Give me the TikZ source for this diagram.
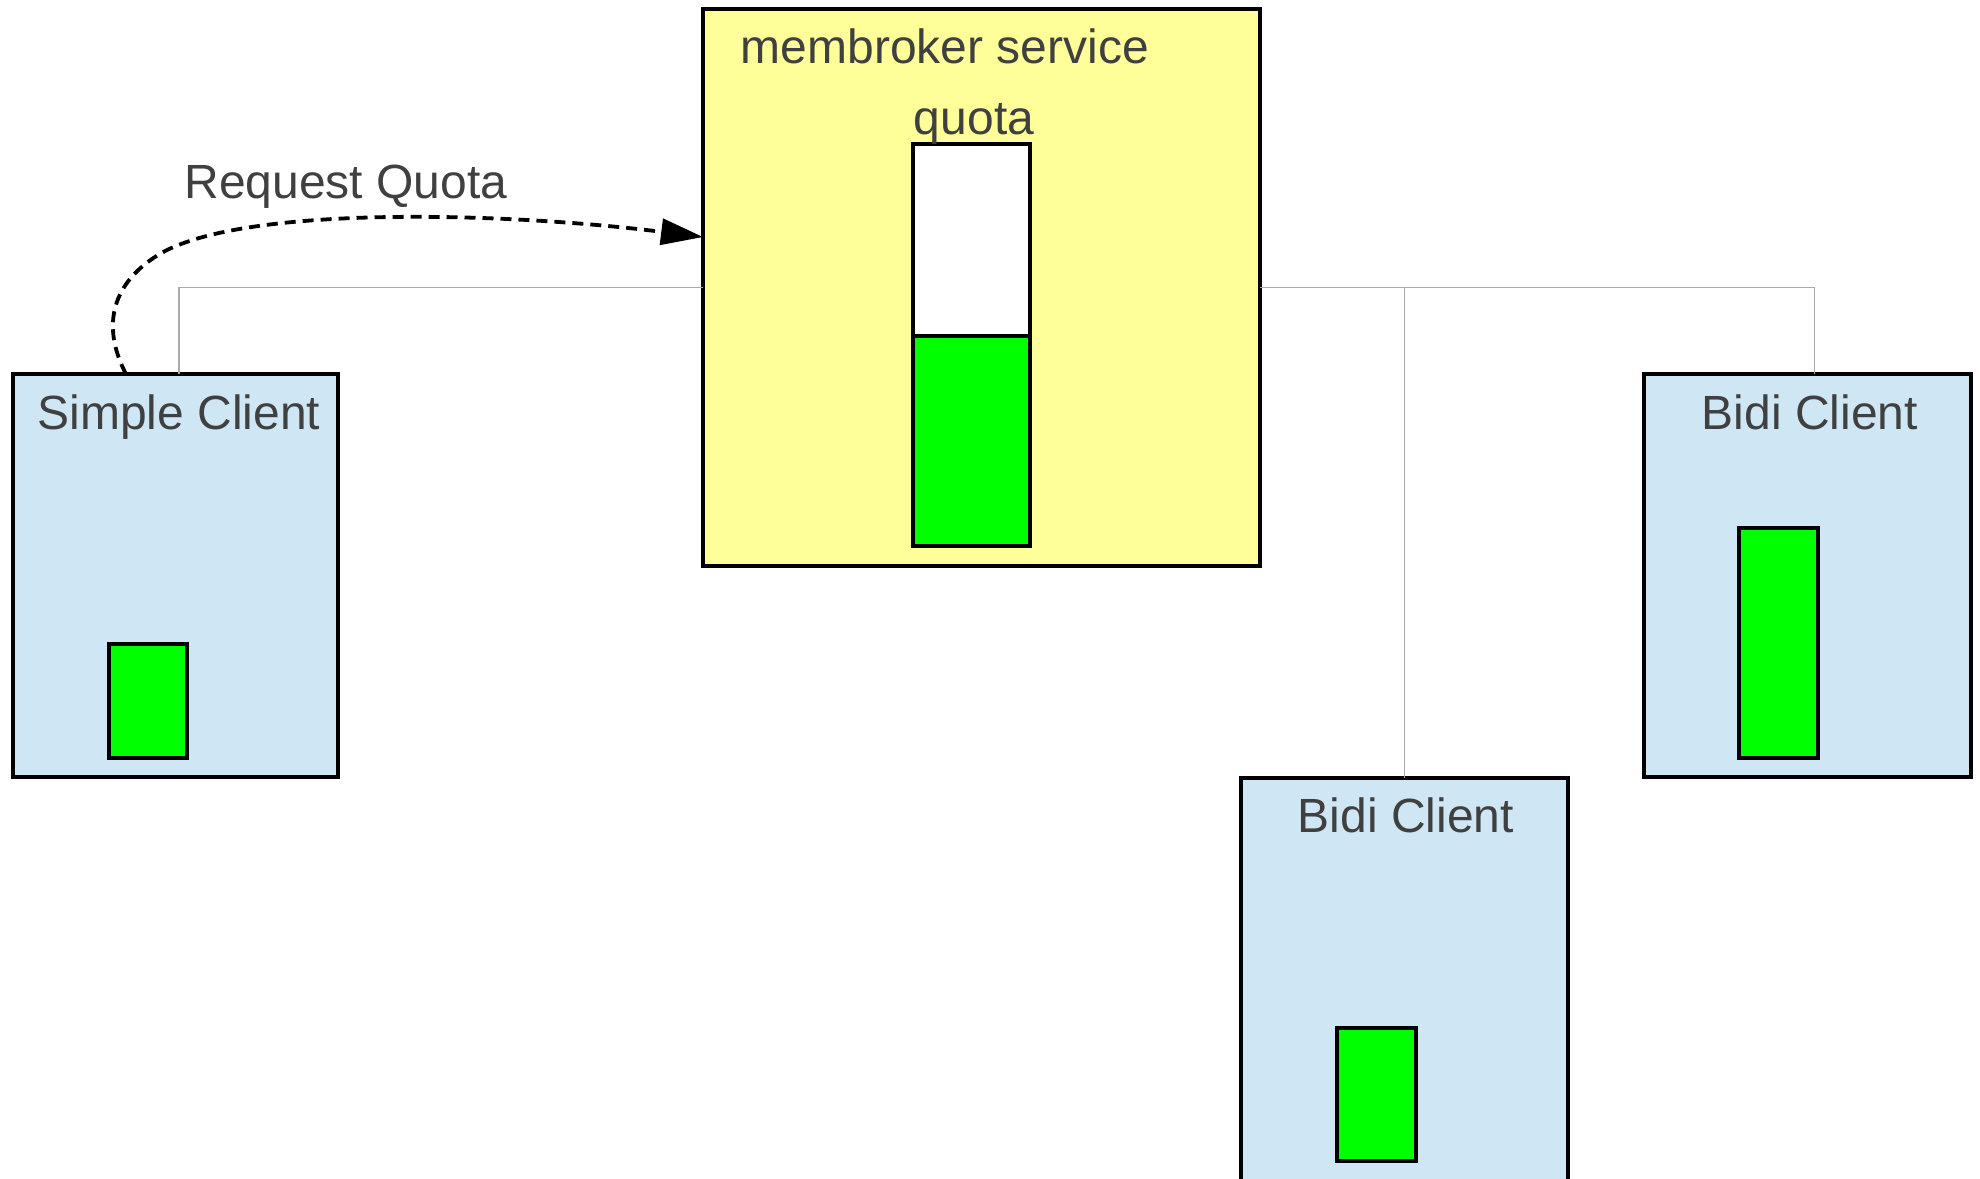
\documentclass[tikz,border=0pt]{standalone}
\usepackage{fontspec}
\setmainfont{Liberation Sans}
\usetikzlibrary{arrows.meta}
\definecolor{txt}{HTML}{404040}
\definecolor{linegray}{HTML}{AAAAAA}
\definecolor{svcyellow}{HTML}{FFFF99}
\definecolor{clientblue}{HTML}{CFE7F5}
\definecolor{barGreen}{HTML}{00FF00}
\begin{document}
\begin{tikzpicture}[x=1pt,y=-1pt,
 box/.style={draw=black,line width=3.3pt,inner sep=0pt,outer sep=0pt,anchor=north west},
 lbl/.style={text=txt,font=\fontsize{48}{58}\selectfont,inner sep=0pt,anchor=base},
 conn/.style={draw=linegray,line width=1.5pt},
 req/.style={draw=black,line width=3.8pt,dash pattern=on 11pt off 7pt,-{Triangle[length=42pt,width=26pt]}}]
\path[use as bounding box] (0,0) rectangle (1980,1178);
\clip (0,0) rectangle (1980,1178);

% boxes
\node[box,fill=svcyellow,minimum width=557pt,minimum height=557pt] (service) at (703,9) {};
\node[box,fill=white,minimum width=117pt,minimum height=192pt] (qtop) at (913,144) {};
\node[box,fill=barGreen,minimum width=117pt,minimum height=210pt] (qfill) at (913,336) {};

\node[box,fill=clientblue,minimum width=325pt,minimum height=403pt] (simple) at (13,374) {};
\node[box,fill=barGreen,minimum width=78pt,minimum height=114pt] (g1) at (109,644) {};

\node[box,fill=clientblue,minimum width=327pt,minimum height=403pt] (bidiR) at (1644,374) {};
\node[box,fill=barGreen,minimum width=79pt,minimum height=230pt] (g2) at (1739,528) {};

\node[box,fill=clientblue,minimum width=327pt,minimum height=440pt] (bidiB) at (1241,778) {};
\node[box,fill=barGreen,minimum width=79pt,minimum height=133pt] (g3) at (1337,1028) {};

% connectors
\draw[conn] (service.west) -| ([xshift=3.5pt]simple.north);
\draw[conn] (service.east) -| (bidiB.north);
\draw[conn] (service.east) -| ([xshift=7pt]bidiR.north);

% request arrow
\coordinate (bend) at (158,255);
\draw[req] ([xshift=113pt]simple.north west) .. controls (103.5,331) and (107.3,286.7) .. (bend)
  .. controls (240,204.6) and (505,212.2) .. ([yshift=50.5pt]service.west);

% labels
\node[lbl] (tsvc) at (945,63) {membroker service};
\node[lbl] (tquota) at (974,134) {quota};
\node[lbl] (treq) at (346,198) {Request Quota};
\node[lbl] (tsimple) at (179,429) {Simple Client};
\node[lbl] (tbidiR) at (1810,429) {Bidi Client};
\node[lbl] (tbidiB) at (1406,832) {Bidi Client};
\end{tikzpicture}
\end{document}
